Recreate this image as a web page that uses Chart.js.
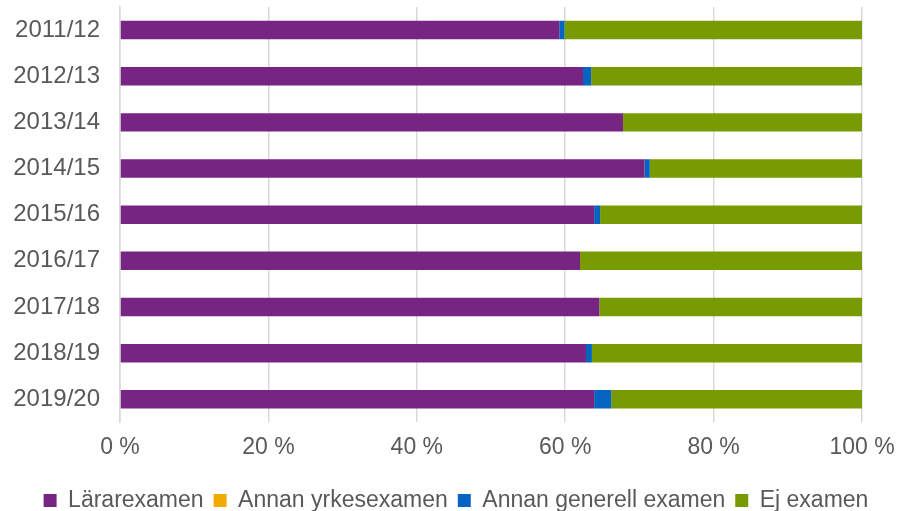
<!DOCTYPE html>
<html>
<head>
<meta charset="utf-8">
<script src="https://cdn.jsdelivr.net/npm/chart.js@4/dist/chart.umd.min.js"></script>
<style>
  html, body { margin: 0; padding: 0; background: #fff; }
  #wrap { width: 912px; height: 511px; }
</style>
</head>
<body>
<div id="wrap"><canvas id="examChart"></canvas></div>
<script>
// Läsår (categories)
const years = ['2011/12', '2012/13', '2013/14', '2014/15', '2015/16', '2016/17', '2017/18', '2018/19', '2019/20'];

// Shares in percent
const lararexamen = [59.2, 62.4, 67.8, 70.7, 63.9, 62.0, 64.6, 62.8, 63.9];
const annanYrkes = [0, 0, 0, 0, 0, 0, 0, 0, 0];
const annanGenerell = [0.7, 1.1, 0, 0.7, 0.8, 0, 0, 0.8, 2.3];
const ejExamen = [40.1, 36.5, 32.2, 28.6, 35.3, 38.0, 35.4, 36.4, 33.8];

const xTicks = [0, 20, 40, 60, 80, 100];

const textColor = '#595959';
const gridColor = '#D9D9D9';
const family = "'Liberation Sans', Arial, sans-serif";

const ctx = document.getElementById('examChart').getContext('2d');

new Chart(ctx, {
  type: 'bar',
  data: {
    labels: years,
    datasets: [
      { label: 'Lärarexamen', data: lararexamen, backgroundColor: '#772583' },
      { label: 'Annan yrkesexamen', data: annanYrkes, backgroundColor: '#F0AB00' },
      { label: 'Annan generell examen', data: annanGenerell, backgroundColor: '#0563C1' },
      { label: 'Ej examen', data: ejExamen, backgroundColor: '#789B02' }
    ]
  },
  options: {
    indexAxis: 'y',
    responsive: true,
    maintainAspectRatio: false,
    animation: false,
    layout: { padding: { top: 7, right: 0, left: 0, bottom: -11 } },
    datasets: {
      bar: { categoryPercentage: 1, barPercentage: 0.4, borderWidth: 0 }
    },
    plugins: {
      legend: {
        position: 'bottom',
        labels: {
          color: textColor,
          font: { family: family, size: 23 },
          boxWidth: 13,
          boxHeight: 13,
          padding: 10
        }
      },
      tooltip: { enabled: false }
    },
    scales: {
      x: {
        stacked: true,
        min: 0,
        max: 100,
        afterBuildTicks: (axis) => { axis.ticks = xTicks.map(v => ({ value: v })); },
        afterFit: (axis) => {
          axis.height += 7;
          axis.paddingRight = 50;
        },
        ticks: {
          color: textColor,
          font: { family: family, size: 23 },
          padding: 11,
          maxRotation: 0,
          callback: (v) => v + ' %'
        },
        grid: { color: gridColor, lineWidth: 1.5, drawTicks: false },
        border: { display: false }
      },
      y: {
        stacked: true,
        afterFit: (axis) => {
          axis.width = 120;
          axis.paddingTop = 0;
          axis.paddingBottom = 0;
        },
        ticks: { color: textColor, font: { family: family, size: 24 }, padding: 20 },
        grid: { display: false, drawTicks: false },
        border: { display: true, color: gridColor, width: 1.5 }
      }
    }
  }
});
</script>
</body>
</html>
